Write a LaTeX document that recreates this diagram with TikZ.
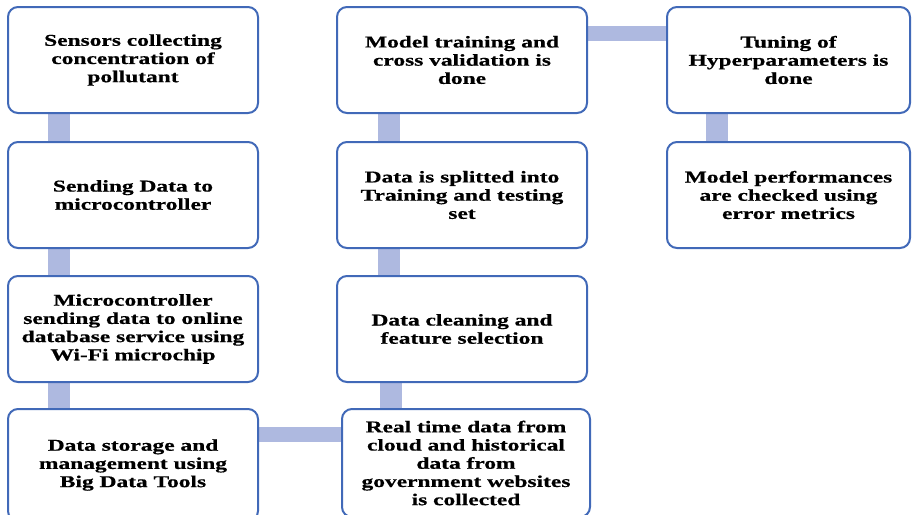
\documentclass[tikz,border=0pt]{standalone}
\usepackage{fontspec}
\usetikzlibrary{backgrounds}
\newfontfamily\boxfont[FakeStretch=1.42, BoldFeatures={FakeBold=0.6}]{Liberation Serif}
\definecolor{boxblue}{HTML}{4169B8}
\definecolor{barblue}{HTML}{AEB9E0}
\tikzset{
  stepbox/.style={draw=boxblue, line width=2pt, fill=white, rounded corners=10pt,
    inner sep=0pt, align=center, text=black,
    font=\boxfont\bfseries\fontsize{16.5}{18.2}\selectfont},
  colA/.style={stepbox, minimum width=250pt, minimum height=106pt},
  colB/.style={stepbox, minimum width=250pt, minimum height=106pt},
  colC/.style={stepbox, minimum width=243pt, minimum height=106pt},
  vbar/.style={draw=barblue, line width=22pt},
  hbar/.style={draw=barblue, line width=15pt}
}
\begin{document}
\begin{tikzpicture}[x=1pt, y=-1pt]
\useasboundingbox (0,0) rectangle (912,514);
\clip (0,0) rectangle (912,514);
% first column
\node[colA] (s1) at (133,60) {Sensors collecting\\concentration of\\pollutant};
\node[colA] (s2) at (133,195) {Sending Data to\\microcontroller};
\node[colA] (s3) at (133,329) {Microcontroller\\sending data to online\\database service using\\Wi-Fi microchip};
\node[colA, minimum height=112pt] (s4) at (133,465) {Data storage and\\management using\\Big Data Tools};
% second column
\node[colB] (c1) at (462,60) {Model training and\\cross validation is\\done};
\node[colB] (c2) at (462,195) {Data is splitted into\\Training and testing\\set};
\node[colB] (c3) at (462,329) {Data cleaning and\\feature selection};
\node[colB, minimum width=248pt, minimum height=108pt] (c4) at (466,463) {Real time data from\\cloud and historical\\data from\\government websites\\is collected};
% third column
\node[colC] (t1) at (788.5,60) {Tuning of\\Hyperparameters is\\done};
\node[colC] (t2) at (788.5,195) {Model performances\\are checked using\\error metrics};
% connecting bars behind the boxes
\begin{scope}[on background layer]
  \draw[vbar] ([xshift=52pt]s1.south west) -- ([xshift=52pt]s2.north west);
  \draw[vbar] ([xshift=52pt]s2.south west) -- ([xshift=52pt]s3.north west);
  \draw[vbar] ([xshift=52pt]s3.south west) -- ([xshift=52pt]s4.north west);
  \draw[hbar] ([yshift=-26.5pt]s4.north east) -- ([yshift=-26.5pt]c4.north west);
  \draw[vbar] ([xshift=50pt]c4.north west) -- ([xshift=55pt]c3.south west);
  \draw[vbar] ([xshift=53pt]c3.north west) -- ([xshift=53pt]c2.south west);
  \draw[vbar] ([xshift=53pt]c2.north west) -- ([xshift=53pt]c1.south west);
  \draw[hbar] ([yshift=-27.5pt]c1.north east) -- ([yshift=-27.5pt]t1.north west);
  \draw[vbar] ([xshift=50.5pt]t1.south west) -- ([xshift=50.5pt]t2.north west);
\end{scope}
\end{tikzpicture}
\end{document}
